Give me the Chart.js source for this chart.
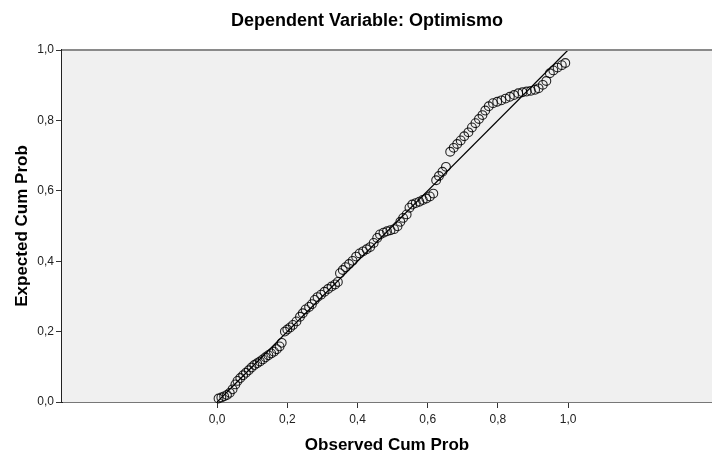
<!DOCTYPE html>
<html>
<head>
<meta charset="utf-8">
<script src="https://cdn.jsdelivr.net/npm/chart.js@4.4.0/dist/chart.umd.min.js"></script>
<style>
  html, body { margin: 0; padding: 0; background: #fff; }
  #wrap { width: 712px; height: 457px; position: relative; }
</style>
</head>
<body>
<div id="wrap"><canvas id="myChart" width="712" height="457"></canvas></div>
<script>
// P-P plot values
const observed = [
  0.004, 0.012, 0.020, 0.028, 0.036, 0.044, 0.052, 0.058, 0.066, 0.074,
  0.082, 0.090, 0.098, 0.106, 0.114, 0.122, 0.130, 0.138, 0.146, 0.154,
  0.162, 0.170, 0.178, 0.184, 0.193, 0.200, 0.208, 0.216, 0.226, 0.236,
  0.244, 0.252, 0.262, 0.270, 0.278, 0.286, 0.296, 0.306, 0.316, 0.326,
  0.336, 0.344, 0.350, 0.358, 0.366, 0.376, 0.386, 0.396, 0.406, 0.416,
  0.426, 0.436, 0.446, 0.456, 0.464, 0.474, 0.484, 0.494, 0.504, 0.514,
  0.522, 0.530, 0.540, 0.548, 0.556, 0.566, 0.576, 0.586, 0.596, 0.606,
  0.616, 0.624, 0.632, 0.642, 0.652, 0.664, 0.674, 0.684, 0.694, 0.704,
  0.716, 0.726, 0.736, 0.746, 0.756, 0.764, 0.774, 0.786, 0.798, 0.810,
  0.822, 0.834, 0.846, 0.858, 0.870, 0.882, 0.894, 0.906, 0.916, 0.928,
  0.938, 0.948, 0.958, 0.970, 0.982, 0.992
];
const expected = [
  0.010, 0.013, 0.016, 0.020, 0.026, 0.036, 0.050, 0.060, 0.068, 0.076,
  0.083, 0.090, 0.098, 0.105, 0.110, 0.115, 0.121, 0.127, 0.133, 0.138,
  0.143, 0.150, 0.158, 0.168, 0.200, 0.206, 0.212, 0.219, 0.229, 0.242,
  0.252, 0.263, 0.270, 0.278, 0.290, 0.298, 0.305, 0.313, 0.321, 0.328,
  0.334, 0.341, 0.366, 0.375, 0.383, 0.392, 0.401, 0.413, 0.422, 0.428,
  0.434, 0.440, 0.452, 0.466, 0.476, 0.481, 0.485, 0.488, 0.491, 0.499,
  0.512, 0.523, 0.533, 0.552, 0.561, 0.565, 0.569, 0.574, 0.578, 0.584,
  0.592, 0.630, 0.642, 0.654, 0.668, 0.711, 0.722, 0.733, 0.743, 0.755,
  0.766, 0.780, 0.792, 0.804, 0.815, 0.828, 0.840, 0.849, 0.853, 0.857,
  0.862, 0.867, 0.872, 0.877, 0.880, 0.882, 0.884, 0.887, 0.891, 0.901,
  0.912, 0.934, 0.942, 0.950, 0.957, 0.963
];
const refLine = [0, 1];
const xTicks = [0, 0.2, 0.4, 0.6, 0.8, 1.0];
const yTicks = [0, 0.2, 0.4, 0.6, 0.8, 1.0];

const points = observed.map((v, i) => ({ x: v, y: expected[i] }));
const fmt = v => Number(v).toFixed(1).replace('.', ',');
const FONT = '"Liberation Sans", Arial, sans-serif';

// plot background, top border and the title
const frame = {
  id: 'frame',
  beforeDatasetsDraw(chart) {
    const { ctx, chartArea: a } = chart;
    ctx.save();
    ctx.fillStyle = '#f0f0f0';
    ctx.fillRect(a.left, a.top, a.right - a.left, a.bottom - a.top);
    ctx.restore();
  },
  afterDraw(chart) {
    const { ctx, chartArea: a } = chart;
    ctx.save();
    ctx.strokeStyle = '#8a8a8a';
    ctx.lineWidth = 2;
    ctx.beginPath();
    ctx.moveTo(a.left, a.top);
    ctx.lineTo(a.right, a.top);
    ctx.stroke();
    ctx.fillStyle = '#000';
    ctx.font = 'bold 18px ' + FONT;
    ctx.textAlign = 'center';
    ctx.textBaseline = 'middle';
    ctx.fillText('Dependent Variable: Optimismo', 367, 21);
    ctx.restore();
  }
};

Chart.defaults.font.family = FONT;

new Chart(document.getElementById('myChart'), {
  type: 'scatter',
  data: {
    datasets: [{
      type: 'line',
      data: refLine.map(v => ({ x: v, y: v })),
      borderColor: '#000',
      borderWidth: 1.2,
      pointRadius: 0,
      fill: false
    }, {
      data: points,
      pointRadius: 4.4,
      pointBorderWidth: 1.1,
      pointBorderColor: 'rgba(0,0,0,0.85)',
      pointBackgroundColor: 'rgba(0,0,0,0)',
      clip: false
    }]
  },
  options: {
    responsive: false,
    animation: false,
    events: [],
    layout: { autoPadding: false, padding: { top: 50, right: 0, left: 0, bottom: 0 } },
    plugins: { legend: { display: false }, tooltip: { enabled: false } },
    scales: {
      x: {
        type: 'linear',
        min: -0.442,
        max: 1.41,
        afterBuildTicks: s => { s.ticks = xTicks.map(v => ({ value: v })); },
        afterFit: s => { s.height = 55; },
        grid: { drawOnChartArea: false, drawTicks: true, tickLength: 6, color: '#333' },
        border: { color: '#777', width: 2 },
        ticks: { padding: 4, autoSkip: false, maxRotation: 0, color: '#222', font: { size: 12 }, callback: fmt },
        title: { display: true, text: 'Observed Cum Prob', color: '#000', font: { size: 17, weight: 'bold' }, padding: { top: 0, bottom: 1 } }
      },
      y: {
        min: 0,
        max: 1,
        afterBuildTicks: s => { s.ticks = yTicks.map(v => ({ value: v })); },
        afterFit: s => { s.width = 62; },
        grid: { drawOnChartArea: false, drawTicks: true, tickLength: 6, color: '#333' },
        border: { color: '#222', width: 2 },
        ticks: { padding: 2, autoSkip: false, color: '#222', font: { size: 12 }, callback: fmt },
        title: { display: true, text: 'Expected Cum Prob', color: '#000', font: { size: 17, weight: 'bold' }, padding: { top: 12, bottom: 0 } }
      }
    }
  },
  plugins: [frame]
});
</script>
</body>
</html>
